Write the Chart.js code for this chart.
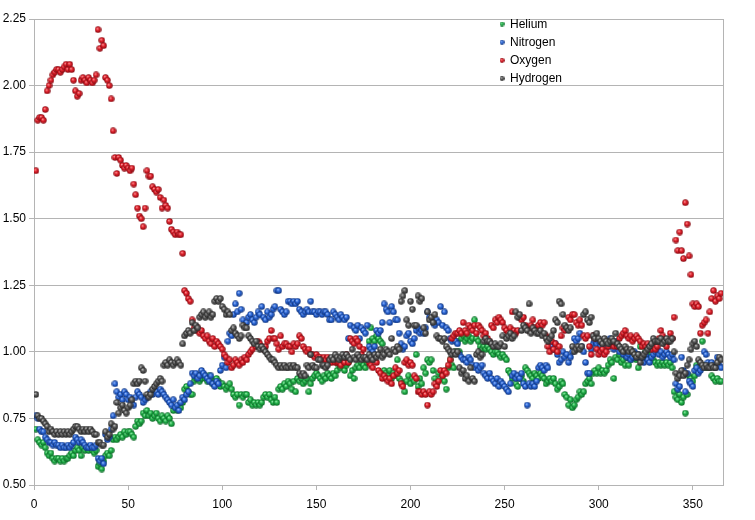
<!DOCTYPE html>
<html>
<head>
<meta charset="utf-8">
<script src="https://cdn.jsdelivr.net/npm/chart.js@4.4.0/dist/chart.umd.min.js"></script>
<style>
  html, body { margin: 0; padding: 0; background: #fff; }
  #chart { display: block; }
</style>
</head>
<body>
<canvas id="chart" width="755" height="520"></canvas>
<script>
// x = day number, 1..365
const days = Array.from({ length: 365 }, (_, i) => i + 1);

const seriesNames = ['Helium', 'Nitrogen', 'Oxygen', 'Hydrogen'];

const helium = [
  0.71,0.67,0.66,0.65,0.66,0.64,0.62,0.61,0.62,0.60,
  0.59,0.60,0.60,0.59,0.60,0.59,0.60,0.60,0.61,0.62,
  0.61,0.63,0.64,0.63,0.61,0.64,0.63,0.64,0.63,0.64,
  0.63,0.62,0.63,0.57,0.58,0.56,0.59,0.61,0.62,0.61,
  0.63,0.67,0.68,0.67,0.68,0.69,0.68,0.70,0.69,0.70,
  0.70,0.69,0.68,0.72,0.74,0.73,0.74,0.77,0.76,0.78,
  0.76,0.77,0.75,0.76,0.77,0.75,0.74,0.76,0.75,0.74,
  0.76,0.75,0.73,0.78,0.79,0.78,0.80,0.79,0.81,0.86,
  0.87,0.85,0.84,0.84,0.89,0.90,0.91,0.89,0.90,0.91,
  0.90,0.89,0.91,0.90,0.88,0.89,0.90,0.89,0.87,0.88,
  0.87,0.86,0.87,0.88,0.86,0.84,0.83,0.84,0.80,0.84,
  0.83,0.84,0.84,0.81,0.82,0.80,0.81,0.80,0.81,0.80,
  0.81,0.83,0.84,0.83,0.84,0.82,0.81,0.83,0.81,0.86,
  0.87,0.86,0.88,0.87,0.89,0.88,0.86,0.89,0.85,0.90,
  0.89,0.90,0.88,0.89,0.90,0.85,0.88,0.90,0.91,0.92,
  0.91,0.90,0.89,0.91,0.90,0.92,0.91,0.90,0.92,0.91,
  0.93,0.95,0.94,0.96,0.93,0.95,0.96,0.91,0.93,0.90,
  0.94,0.95,0.94,0.96,0.95,0.94,0.96,1.04,1.09,1.05,
  1.04,1.06,1.05,1.04,1.03,0.93,0.92,0.91,0.93,0.90,
  0.92,0.91,0.97,0.90,0.89,0.88,0.85,0.89,0.91,0.88,
  0.90,0.89,0.99,0.87,0.90,0.88,0.94,0.92,0.97,0.96,
  0.97,0.93,0.90,0.88,0.92,0.90,0.91,0.89,0.86,0.94,
  0.97,0.95,0.94,1.00,1.04,1.00,1.05,1.06,1.04,1.05,
  1.06,1.04,1.05,1.12,1.05,1.04,1.02,1.01,1.02,1.01,
  1.02,1.01,1.00,0.99,1.00,1.00,0.99,0.98,0.99,0.98,
  0.97,0.93,0.92,0.90,0.91,0.88,0.87,0.90,0.91,0.89,
  0.94,0.93,0.92,0.91,0.90,0.92,0.91,0.90,0.92,0.91,
  0.90,0.88,0.89,0.90,0.89,0.90,0.88,0.86,0.87,0.89,
  0.88,0.84,0.83,0.80,0.82,0.79,0.80,0.82,0.83,0.85,
  0.84,0.85,0.88,0.89,0.90,0.88,0.92,0.93,0.92,0.94,
  0.92,0.93,0.92,0.93,0.95,0.97,0.96,0.90,0.98,0.97,
  0.99,0.96,0.97,0.95,0.98,0.95,0.97,0.99,0.98,0.97,
  0.94,1.02,0.97,0.98,1.00,0.99,1.01,0.98,0.97,0.96,
  0.95,0.96,0.95,0.96,0.95,0.96,0.95,0.96,0.94,0.85,
  0.83,0.82,0.84,0.81,0.83,0.77,0.84,0.91,0.90,0.89,
  0.91,0.95,0.94,0.94,1.04,0.95,0.94,0.95,0.94,0.91,
  0.90,0.89,0.90,0.89,0.89
];

const nitrogen = [
  0.76,0.75,0.71,0.70,0.70,0.68,0.67,0.66,0.66,0.65,
  0.66,0.65,0.65,0.64,0.65,0.64,0.64,0.65,0.64,0.65,
  0.66,0.68,0.67,0.66,0.67,0.66,0.65,0.64,0.64,0.65,
  0.64,0.64,0.65,0.60,0.59,0.60,0.58,0.69,0.67,0.68,
  0.71,0.76,0.88,0.85,0.83,0.84,0.82,0.85,0.84,0.82,
  0.83,0.81,0.80,0.83,0.85,0.84,0.83,0.81,0.82,0.83,
  0.84,0.85,0.84,0.86,0.85,0.84,0.86,0.85,0.84,0.83,
  0.82,0.81,0.80,0.82,0.79,0.80,0.78,0.81,0.83,0.82,
  0.84,0.85,0.88,0.92,0.91,0.92,0.90,0.91,0.93,0.92,
  0.91,0.90,0.89,0.91,0.88,0.87,0.89,0.88,0.93,0.95,
  0.98,0.94,1.04,1.07,1.06,1.14,1.18,1.15,1.22,1.16,
  1.12,1.10,1.11,1.13,1.14,1.12,1.11,1.13,1.15,1.14,
  1.17,1.13,1.12,1.15,1.13,1.14,1.16,1.17,1.23,1.23,
  1.16,1.15,1.14,1.15,1.19,1.19,1.18,1.19,1.18,1.19,
  1.16,1.15,1.14,1.15,1.16,1.15,1.19,1.15,1.15,1.14,
  1.15,1.15,1.14,1.15,1.15,1.14,1.12,1.12,1.15,1.14,
  1.13,1.12,1.14,1.13,1.12,1.13,1.05,1.10,1.04,1.09,
  1.08,1.10,1.05,1.09,1.08,1.07,1.10,1.02,1.01,1.00,
  1.02,1.08,1.07,1.08,1.11,1.18,1.16,1.15,1.11,1.17,
  1.15,1.12,1.12,1.07,1.03,1.01,1.02,1.06,1.07,1.04,
  1.03,1.05,1.08,1.09,1.07,1.08,1.07,1.09,1.15,1.13,
  1.12,1.11,1.10,1.12,1.11,1.17,1.10,1.15,1.09,1.08,
  1.05,1.04,1.05,1.04,1.03,0.99,0.98,0.97,0.97,0.96,
  0.98,0.97,0.95,0.94,0.95,0.93,0.94,0.95,0.92,0.91,
  0.90,0.92,0.90,0.89,0.88,0.90,0.87,0.89,0.88,0.87,
  0.86,0.85,0.88,0.91,0.92,0.90,0.91,0.90,0.92,0.88,
  0.87,0.80,0.88,0.87,0.88,0.87,0.89,0.94,0.95,0.94,
  0.93,0.95,0.94,1.03,1.02,1.01,1.03,0.99,0.96,0.97,
  1.00,0.98,0.99,0.96,0.98,1.00,1.05,1.04,1.05,1.07,
  1.02,1.00,0.96,0.92,0.92,1.01,1.03,1.04,1.03,1.04,
  1.02,1.03,1.04,1.03,1.02,1.05,1.03,1.01,1.04,1.02,
  1.00,1.01,0.99,1.00,0.98,0.99,0.97,0.98,1.00,0.98,
  0.99,0.98,0.97,0.96,0.99,0.97,0.96,0.98,0.99,1.00,
  1.01,0.99,1.00,0.98,0.99,1.00,0.99,0.98,0.99,0.97,
  0.88,0.86,0.87,0.98,0.93,0.85,0.92,0.89,0.88,0.87,
  0.93,0.94,0.92,0.93,0.94,1.00,0.99,0.96,0.95,0.96,
  0.95,0.94,0.98,0.95,0.94
];

const oxygen = [
  1.68,1.87,1.88,1.88,1.87,1.91,1.98,2.00,2.02,2.04,
  2.05,2.06,2.06,2.05,2.06,2.07,2.08,2.06,2.08,2.06,
  2.02,1.98,1.96,1.97,2.02,2.03,2.02,2.01,2.03,2.02,
  2.01,2.02,2.04,2.21,2.14,2.17,2.15,2.03,2.02,2.00,
  1.95,1.83,1.73,1.67,1.73,1.72,1.70,1.69,1.70,1.69,
  1.68,1.69,1.63,1.59,1.54,1.51,1.50,1.47,1.54,1.68,
  1.66,1.66,1.62,1.61,1.60,1.61,1.58,1.54,1.57,1.55,
  1.54,1.49,1.46,1.45,1.44,1.45,1.44,1.44,1.37,1.23,
  1.22,1.20,1.19,1.12,1.09,1.08,1.09,1.07,1.08,1.06,
  1.05,1.06,1.04,1.03,1.05,1.02,1.04,1.03,1.02,1.01,
  0.99,0.98,0.96,0.97,0.94,0.95,0.97,0.96,0.95,0.97,
  0.96,0.98,0.97,0.99,1.00,1.01,1.03,1.02,1.04,1.03,
  1.02,1.01,1.02,1.04,1.05,1.08,1.05,1.05,1.03,1.01,
  1.06,1.02,1.03,1.03,1.02,1.02,1.00,1.03,1.02,1.03,
  1.06,1.05,1.02,1.01,1.00,1.01,0.99,0.99,0.98,0.99,
  0.98,0.98,0.97,0.98,0.97,0.98,0.97,0.96,0.97,0.96,
  0.96,0.96,0.95,0.97,0.96,0.99,0.96,1.05,1.04,1.03,
  1.05,1.04,1.02,0.99,1.01,0.98,0.97,0.96,0.95,0.94,
  0.97,0.96,0.93,0.92,0.90,0.91,0.90,0.89,0.90,0.88,
  0.91,0.94,0.92,0.93,0.88,0.87,0.96,0.97,0.95,0.96,
  0.95,0.91,0.90,0.85,0.85,0.84,0.85,0.84,0.80,0.85,
  0.84,0.85,0.88,0.87,0.89,0.93,0.91,0.93,0.92,0.95,
  0.97,1.05,1.06,1.07,1.07,1.08,1.07,1.11,1.08,1.07,
  1.10,1.09,1.08,1.10,1.07,1.10,1.09,1.08,1.06,1.07,
  1.05,1.04,1.10,1.09,1.12,1.11,1.13,1.12,1.11,1.09,
  1.08,1.07,1.09,1.15,1.08,1.07,1.08,1.13,1.12,1.13,
  1.10,1.09,1.08,1.10,1.12,1.09,1.08,1.10,1.11,1.10,
  1.11,1.06,1.02,1.00,1.04,1.01,1.03,1.00,1.02,1.06,
  1.09,1.08,1.09,1.13,1.12,1.14,1.14,1.11,1.10,1.12,
  1.10,1.06,1.05,1.06,1.02,0.99,1.06,1.05,1.01,0.99,
  1.00,1.01,0.99,1.00,1.02,1.03,1.03,1.02,1.03,1.02,
  1.05,1.06,1.07,1.08,1.06,1.05,1.06,1.04,1.05,1.06,
  1.05,1.04,1.02,1.03,1.02,1.03,1.02,1.01,1.02,1.01,
  1.02,1.05,1.08,1.06,1.03,1.02,1.04,1.07,1.05,1.13,
  1.42,1.38,1.45,1.38,1.35,1.56,1.48,1.36,1.29,1.18,
  1.17,1.18,1.17,1.07,1.10,1.11,1.12,1.07,1.15,1.20,
  1.23,1.19,1.21,1.20,1.22
];

const hydrogen = [
  0.84,0.76,0.75,0.75,0.74,0.73,0.72,0.70,0.71,0.70,
  0.69,0.70,0.69,0.70,0.69,0.70,0.69,0.70,0.69,0.70,
  0.71,0.72,0.72,0.71,0.70,0.71,0.70,0.71,0.70,0.71,
  0.70,0.69,0.69,0.66,0.66,0.65,0.65,0.70,0.68,0.69,
  0.73,0.71,0.72,0.81,0.77,0.79,0.80,0.78,0.77,0.79,
  0.80,0.82,0.88,0.89,0.88,0.89,0.94,0.93,0.89,0.84,
  0.83,0.84,0.86,0.87,0.88,0.89,0.90,0.89,0.95,0.96,
  0.95,0.97,0.96,0.95,0.96,0.97,0.96,0.95,1.03,1.06,
  1.07,1.08,1.07,1.11,1.08,1.10,1.09,1.13,1.14,1.15,
  1.13,1.14,1.15,1.13,1.14,1.19,1.20,1.19,1.20,1.17,
  1.16,1.14,1.15,1.14,1.08,1.09,1.07,1.06,1.05,1.06,
  1.10,1.09,1.09,1.06,1.05,1.04,1.03,1.04,1.02,1.01,
  1.02,1.01,1.00,0.99,0.98,0.97,0.97,0.96,0.95,0.94,
  0.95,0.94,0.95,0.94,0.94,0.95,0.94,0.95,0.94,0.94,
  0.92,0.91,0.92,0.91,0.95,0.94,0.99,0.95,0.94,0.94,
  0.97,0.97,0.95,0.95,0.94,0.95,0.97,0.98,0.97,0.99,
  0.98,0.97,0.98,0.99,0.98,0.99,0.98,0.97,1.01,0.98,
  0.97,0.99,0.98,0.97,0.98,0.98,0.97,0.99,0.98,0.97,
  0.99,0.98,0.99,1.01,0.98,0.99,1.01,1.00,0.99,1.05,
  1.01,1.00,1.02,1.01,1.19,1.21,1.23,1.12,1.10,1.19,
  1.16,1.10,1.10,1.21,1.19,1.20,1.09,1.07,1.15,1.12,
  1.13,1.11,1.14,1.06,1.05,1.05,1.04,1.05,1.02,1.01,
  1.00,0.99,1.00,0.99,1.00,0.94,0.92,0.93,0.90,0.91,
  0.89,0.94,0.90,0.89,0.99,1.00,0.98,0.99,1.04,1.05,
  1.04,1.04,1.03,1.02,1.03,1.02,1.02,1.03,1.06,1.02,
  1.05,1.06,1.07,1.05,1.06,1.15,1.13,1.14,1.08,1.10,
  1.09,1.08,1.18,1.07,1.09,1.08,1.07,1.07,1.08,1.06,
  1.07,1.05,1.04,1.05,1.06,1.08,1.12,1.11,1.19,1.18,
  1.14,1.10,1.09,1.08,1.09,1.02,1.00,1.01,1.02,1.01,
  1.02,1.14,1.15,1.12,1.11,1.13,1.06,1.05,1.07,1.05,
  1.04,1.03,1.05,1.04,1.03,1.04,1.05,1.04,1.07,1.03,
  1.02,1.01,1.00,1.02,1.01,1.00,1.01,1.00,0.99,0.98,
  0.99,0.96,0.98,0.99,1.00,1.01,1.02,1.03,1.05,1.04,
  1.04,1.04,1.05,1.03,1.04,1.05,1.04,1.04,1.05,1.00,
  0.92,0.90,0.91,0.93,0.91,0.92,0.95,0.97,1.01,1.03,
  1.04,1.02,0.97,0.96,0.95,0.94,0.95,0.94,0.94,0.95,
  0.94,0.94,0.96,0.98,0.97
];

const xTickStep = 50;
const yTickStep = 0.25;

// shaded ball look for the markers
const palette = [
  { light: '#a6f2b8', base: '#22b24a', dark: '#0b6a26' },
  { light: '#aecbff', base: '#2a66d6', dark: '#10337c' },
  { light: '#ffa6a6', base: '#de1f2a', dark: '#860b12' },
  { light: '#d2d2d2', base: '#575757', dark: '#262626' }
];

function ball(c, size, rad) {
  const cv = document.createElement('canvas');
  cv.width = size; cv.height = size;
  const g = cv.getContext('2d');
  const r = size / 2;
  const grad = g.createRadialGradient(r * 0.75, r * 0.65, 0, r, r, rad);
  grad.addColorStop(0, c.light);
  grad.addColorStop(0.5, c.base);
  grad.addColorStop(1, c.dark);
  g.fillStyle = grad;
  g.beginPath();
  g.arc(r, r, rad, 0, Math.PI * 2);
  g.fill();
  return cv;
}

const values = [helium, nitrogen, oxygen, hydrogen];
const markers = palette.map(c => ball(c, 7, 3.2));
const legendMarkers = palette.map(c => ball(c, 5, 2.4));

const gridColor = '#b4b4b4';

// legend sits inside the plot, near the top
const insideLegend = {
  id: 'insideLegend',
  afterDraw(chart) {
    const ctx = chart.ctx;
    ctx.save();
    ctx.font = '12px "Liberation Sans", Arial, sans-serif';
    ctx.fillStyle = '#000';
    ctx.textBaseline = 'middle';
    seriesNames.forEach((name, i) => {
      const y = 24 + i * 18.2;
      ctx.drawImage(legendMarkers[i], 502 - 2.5, y - 2.5);
      ctx.fillText(name, 510, y + 0.5);
    });
    ctx.restore();
  }
};

const rightBorder = {
  id: 'rightBorder',
  afterDatasetsDraw(chart) {
    const a = chart.chartArea;
    const ctx = chart.ctx;
    ctx.save();
    ctx.strokeStyle = gridColor;
    ctx.lineWidth = 1;
    ctx.beginPath();
    ctx.moveTo(Math.round(a.right) + 0.5, a.top);
    ctx.lineTo(Math.round(a.right) + 0.5, a.bottom);
    ctx.stroke();
    ctx.restore();
  }
};

Chart.defaults.font.family = '"Liberation Sans", Arial, sans-serif';
Chart.defaults.font.size = 12;
Chart.defaults.color = '#000';

new Chart(document.getElementById('chart'), {
  type: 'scatter',
  data: {
    datasets: seriesNames.map((name, i) => ({
      label: name,
      data: days.map((d, k) => ({ x: d, y: values[i][k] })),
      pointStyle: markers[i],
      pointRadius: 3.5,
      order: 4 - i
    }))
  },
  options: {
    responsive: false,
    animation: false,
    layout: { padding: { top: 19, right: 32, left: 0, bottom: 0 } },
    plugins: {
      legend: { display: false },
      tooltip: { enabled: false }
    },
    scales: {
      x: {
        type: 'linear',
        min: 0,
        max: 366,
        afterFit(s) { s.height = 35; },
        ticks: { stepSize: xTickStep, includeBounds: false, padding: 7, maxRotation: 0 },
        grid: { drawOnChartArea: false, drawTicks: true, tickLength: 5, color: gridColor },
        border: { color: gridColor }
      },
      y: {
        min: 0.5,
        max: 2.25,
        afterFit(s) { s.width = 34; },
        ticks: { stepSize: yTickStep, padding: 3, callback: v => v.toFixed(2) },
        grid: { tickLength: 5, color: gridColor },
        border: { color: gridColor }
      }
    }
  },
  plugins: [insideLegend, rightBorder]
});
</script>
</body>
</html>
